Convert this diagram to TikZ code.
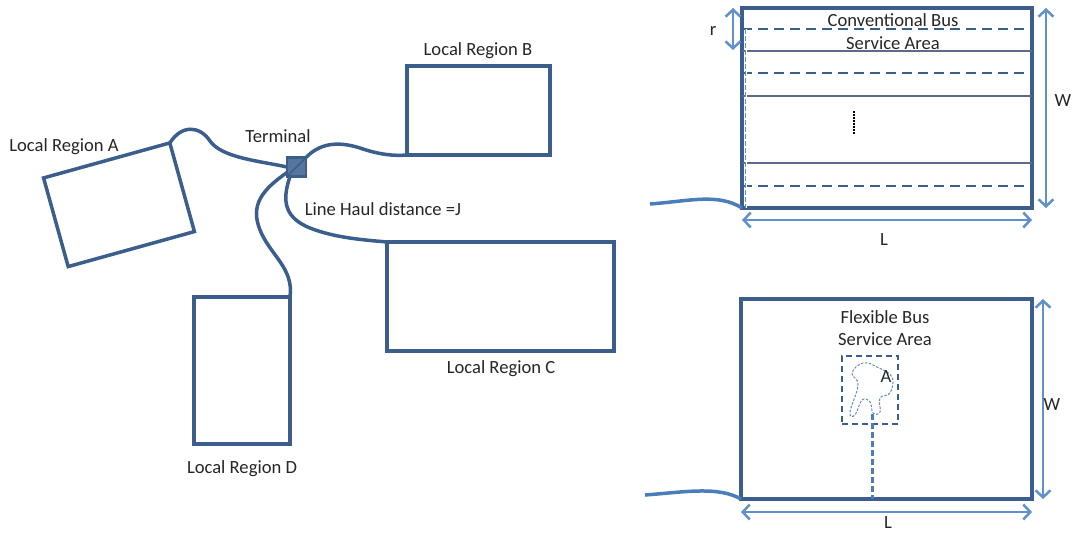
\documentclass[tikz,border=0pt]{standalone}
\usepackage{fontspec}
\setmainfont{Carlito}
\usetikzlibrary{positioning,arrows.meta}

\definecolor{regionblue}{RGB}{59,94,140}
\definecolor{dimblue}{RGB}{96,145,205}
\definecolor{feederblue}{RGB}{74,126,187}
\definecolor{stripgrey}{RGB}{90,108,135}
\definecolor{labelgrey}{RGB}{38,38,38}

\tikzstyle{region}=[
    draw=regionblue,
    line width=3.5pt,
    outer sep=0pt,
    inner sep=0pt,
  ]
\tikzstyle{panel}=[
    draw=regionblue,
    line width=4.5pt,
    outer sep=0pt,
    inner sep=0pt,
  ]
\tikzstyle{terminal}=[
    draw=regionblue,
    fill=regionblue!85!white,
    line width=2.5pt,
    minimum size=19pt,
    outer sep=0pt,
    inner sep=0pt,
  ]
\tikzstyle{road}=[
    regionblue,
    line width=3.5pt,
  ]
\tikzstyle{feeder}=[
    feederblue,
    line width=3.5pt,
  ]
\tikzstyle{dim}=[
    {Straight Barb[length=7pt,width=15pt]}-{Straight Barb[length=7pt,width=15pt]},
    dimblue,
    line width=2.5pt,
  ]
\tikzstyle{lbl}=[
    text=labelgrey,
    font=\fontsize{18.6}{21}\selectfont,
    inner sep=0pt,
  ]
\tikzstyle{lane}=[
    stripgrey,
    line width=1.8pt,
  ]
\tikzstyle{laneedge}=[
    regionblue,
    line width=1.8pt,
    dash pattern=on 10pt off 6pt,
  ]

\begin{document}
\begin{tikzpicture}[x=1pt, y=-1pt]
      \useasboundingbox (0,0) rectangle (1073,533);
      % local regions and terminal
      \node[region, minimum width=131pt, minimum height=92pt, rotate=15.5] (rA) at (119,204.75) {};
      \node[region, minimum width=143pt, minimum height=89pt] (rB) at (478.5,110.5) {};
      \node[region, minimum width=227pt, minimum height=109pt] (rC) at (500.5,296.5) {};
      \node[region, minimum width=96pt, minimum height=147pt] (rD) at (242,370.5) {};
      \node[terminal] (term) at (296.5,167) {};
      \draw[regionblue, line width=1.5pt] (term.south west) -- (term.north east);

      \node[lbl] (lblA) at (64,147) {Local Region A};
      \node[lbl] (lblB) at (478,51) {Local Region B};
      \node[lbl] (lblC) at (501,369) {Local Region C};
      \node[lbl] (lblD) at (242,469) {Local Region D};
      \node[lbl] (lblT) at (278,136) {Terminal};
      \node[lbl] (lblJ) at (383,209) {Line Haul distance =J};

      % line haul roads
      \draw[road] (rA.north east) .. controls (182,124) and (200,126) .. (210,141)
        .. controls (222,158) and (260,161) .. (term.west);
      \draw[road] (term.north east) .. controls (318,145) and (335,140) .. (360,148)
        .. controls (380,155) and (395,156) .. (rB.south west);
      \draw[road] ([xshift=3pt]term.south west) .. controls (284,195) and (280,216) .. (310,228)
        .. controls (335,238) and (365,240) .. (rC.north west);
      \draw[road] ([yshift=4pt]term.south west) .. controls (262,190) and (250,205) .. (260,230)
        .. controls (270,255) and (294,268) .. (rD.north east);

      % conventional bus service area
      \node[panel, minimum width=290pt, minimum height=200pt] (conv) at (887,108) {};
      \foreach \y in {29, 73, 186} {%
        \draw[laneedge] (conv.west |- 0,\y) -- (conv.east |- 0,\y);
      }
      \foreach \y in {51, 96, 163} {%
        \draw[lane] (conv.west |- 0,\y) -- (conv.east |- 0,\y);
      }
      \draw[dimblue, line width=0.7pt, double=white, double distance=1pt,
        dash pattern=on 5pt off 2pt] (746,29) -- (conv.south west -| 746,0);
      \draw[black, line width=1.5pt, dash pattern=on 1.5pt off 1.5pt] (854,111) -- (854,135);
      \node[lbl] (convtxt1) at (893,20) {Conventional Bus};
      \node[lbl] (convtxt2) at (893,43) {Service Area};
      \draw[dim] ([xshift=-9pt]conv.north west) -- ++(0,42);
      \draw[dim] ([xshift=14pt]conv.north east) -- ([xshift=14pt]conv.south east);
      \draw[dim] ([yshift=-12pt]conv.south west) -- ([yshift=-12pt]conv.south east);
      \node[lbl] (convr) at (713,31) {r};
      \node[lbl] (convW) at (1063,101) {W};
      \node[lbl] (convL) at (884,240) {L};
      \coordinate (convwave) at (650,204);
      \draw[feeder] (convwave) .. controls (690,201) and (718,193) .. (conv.south west);

      % flexible bus service area
      \node[panel, minimum width=291pt, minimum height=200pt] (flex) at (886.5,399) {};
      \node[lbl] (flextxt1) at (885,317) {Flexible Bus};
      \node[lbl] (flextxt2) at (885,339) {Service Area};
      \node[draw=regionblue, line width=2.2pt, dash pattern=on 6pt off 4pt,
        minimum width=56pt, minimum height=68pt, inner sep=0pt] (zone) at (870,390) {};
      \draw[dimblue!80!stripgrey, line width=1pt, dash pattern=on 2.5pt off 1.5pt]
        plot[smooth cycle, tension=0.7] coordinates {(863,363) (852,373) (858,385) (850,412)
          (855,415) (862,400) (870,402) (873,413) (880,412) (880,398) (890,393) (892,377) (877,367)};
      \node[lbl] (flexA) at (886,377) {A};
      \coordinate (stemtop) at (872,414);
      \draw[feederblue, line width=3pt, dash pattern=on 6pt off 3pt] (stemtop) -- (flex.south -| 872,0);
      \draw[dim] ([xshift=11pt]flex.north east) -- ([xshift=11pt]flex.south east);
      \draw[dim] ([yshift=-13pt]flex.south west) -- ([yshift=-13pt]flex.south east);
      \node[lbl] (flexW) at (1052,405) {W};
      \node[lbl] (flexL) at (888,523) {L};
      \coordinate (flexwave) at (645,495);
      \draw[feeder] (flexwave) .. controls (685,492) and (718,486) .. (flex.south west);
    \end{tikzpicture}
\end{document}
